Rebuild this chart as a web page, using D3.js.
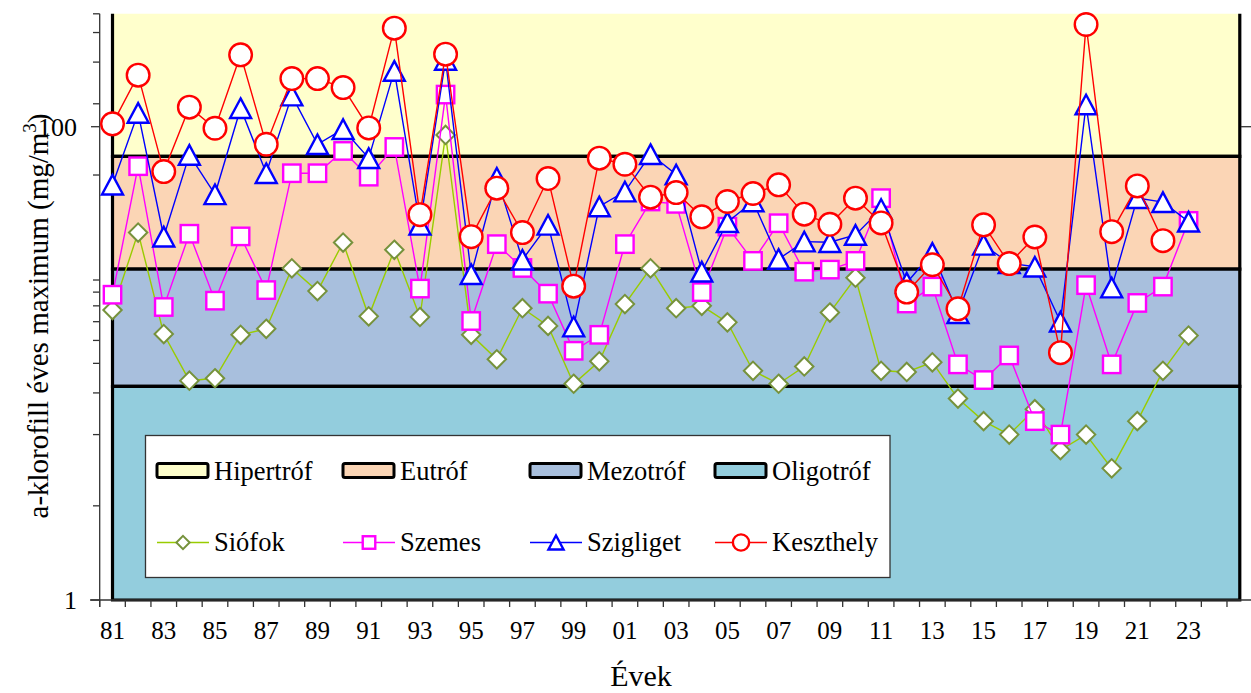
<!DOCTYPE html>
<html><head><meta charset="utf-8">
<script src="https://cdn.jsdelivr.net/npm/d3@7"></script>
<style>
body{margin:0;background:#fff}
svg{display:block}
svg text{font-family:"Liberation Serif","DejaVu Serif","Times New Roman",serif;fill:#000}
</style>
</head><body>
<svg id="c" width="1251" height="693" font-family="'Liberation Serif', 'DejaVu Serif', serif"></svg>
<script>
// ---- data ----
const categories = [1981,1982,1983,1984,1985,1986,1987,1988,1989,1990,1991,1992,1993,1994,1995,1996,1997,1998,1999,2000,2001,2002,2003,2004,2005,2006,2007,2008,2009,2010,2011,2012,2013,2014,2015,2016,2017,2018,2019,2020,2021,2022,2023,2024,2025];
const xTickLabels = ["81","83","85","87","89","91","93","95","97","99","01","03","05","07","09","11","13","15","17","19","21","23"];
const xTickYears = [1981,1983,1985,1987,1989,1991,1993,1995,1997,1999,2001,2003,2005,2007,2009,2011,2013,2015,2017,2019,2021,2023];
const yTickLabels = [1,100];
const yMinorTicks = [2.5,5,7.5,10,12.5,15,17.5,20,22.5,62.5,125,187.5,250,300];

const siofok    = [16.8,35.7,13.3,8.45,8.65,13.2,14.0,25.2,20.2,32.4,15.8,30.2,15.7,92.3,13.2,10.4,17.1,14.4,8.2,10.2,17.8,25.2,17.1,17.5,14.9,9.3,8.2,9.7,16.4,23.0,9.3,9.2,10.1,7.1,5.7,5.0,6.4,4.3,5.0,3.6,5.7,9.3,13.1];
const szemes    = [19.5,68.1,17.3,35.3,18.4,34.4,20.4,63.6,63.6,79.0,61.5,82.1,20.7,136.7,15.1,31.9,25.3,19.7,11.3,13.2,31.9,48.3,47.2,20.0,37.8,27.1,39.1,24.4,24.9,27.1,49.9,17.9,21.1,9.9,8.5,10.8,5.7,5.0,21.4,9.9,18.0,21.1,40.0];
const szigliget = [56.9,114.4,34.3,76.0,51.8,119.7,63.6,135.4,84.3,97.6,73.6,172.1,38.5,191.6,23.8,60.8,27.4,38.5,14.3,46.0,53.2,76.5,62.8,24.4,39.5,48.3,27.6,32.7,32.5,34.9,44.9,21.9,29.3,16.3,31.7,26.5,25.6,15.0,124.1,20.9,49.9,48.0,39.7];
const keszthely = [102.8,165.1,64.6,120.9,98.5,201.2,84.3,159.7,159.7,146.3,98.8,260.8,42.5,202.5,34.3,55.0,35.7,60.4,21.2,73.6,69.4,50.4,52.7,41.6,48.3,52.2,56.8,42.7,38.7,49.9,39.2,20.0,26.1,17.0,38.5,26.4,34.2,11.1,270.3,36.0,56.2,33.0,null];

const bandNames  = ["Hipertróf","Eutróf","Mezotróf","Oligotróf"];
const bandLow    = [75,25,8,1];
const bandHigh   = [400,75,25,8];
const bandColors = ["#FFFFCC","#FBD5B5","#A8BFDD","#93CDDD"];

const seriesNames = ["Siófok","Szemes","Szigliget","Keszthely"];
const seriesData  = [siofok,szemes,szigliget,keszthely];

// ---- styles ----
const series = [
  {line:"#99CC00", stroke:"#76923C", shape:"diamond"},
  {line:"#FF00FF", stroke:"#FF00FF", shape:"square"},
  {line:"#0000FF", stroke:"#0000FF", shape:"triangle"},
  {line:"#FF0000", stroke:"#FF0000", shape:"circle"}
];
const FONT = "'Liberation Serif', 'DejaVu Serif', serif";

const svg = d3.select("#c");
const x = d3.scaleBand().domain(categories).range([99.7, 1252.6]).padding(0);
const bw = x.bandwidth();
const cx = d => x(d) + bw/2;
const y = d3.scaleLog().domain([1,300]).range([600,13.8]);

// clip for bands
svg.append("clipPath").attr("id","pc").append("rect")
  .attr("x",0).attr("y",y(300)).attr("width",1251).attr("height",603-y(300));

const bandG = svg.append("g").attr("clip-path","url(#pc)");
bandNames.forEach((n,i)=>{
  const area = d3.area().x(d=>cx(d)).y0(y(bandLow[i])).y1(y(bandHigh[i]));
  bandG.append("path").datum(categories).attr("d",area)
    .attr("fill",bandColors[i]).attr("stroke","#000").attr("stroke-width",3.2)
    .attr("stroke-linejoin","miter");
});

// axes
const axG = svg.append("g").attr("stroke","#333").attr("stroke-width",1.3);
axG.append("line").attr("x1",x.range()[0]).attr("x2",x.range()[0]).attr("y1",y(300)).attr("y2",607);
axG.append("line").attr("x1",90).attr("x2",1251).attr("y1",600).attr("y2",600);
axG.selectAll(".xt").data(categories).join("line")
  .attr("x1",d=>x(d)).attr("x2",d=>x(d)).attr("y1",600).attr("y2",607);
axG.selectAll(".ymin").data(yMinorTicks).join("line")
  .attr("x1",93).attr("x2",x.range()[0]).attr("y1",d=>y(d)).attr("y2",d=>y(d));
axG.selectAll(".ymaj").data(yTickLabels).join("line")
  .attr("x1",91).attr("x2",x.range()[0]).attr("y1",d=>y(d)).attr("y2",d=>y(d));
axG.append("line").attr("x1",1241).attr("x2",1251).attr("y1",y(100)).attr("y2",y(100));

svg.selectAll(".ylab").data(yTickLabels).join("text")
  .attr("font-family",FONT)
  .attr("x",77).attr("y",d=>y(d)+9).attr("text-anchor","end")
  .attr("font-size",26).text(d=>d);
svg.selectAll(".xlab").data(xTickYears).join("text")
  .attr("font-family",FONT)
  .attr("x",d=>cx(d)).attr("y",639).attr("text-anchor","middle")
  .attr("font-size",25).text((d,i)=>xTickLabels[i]);

// titles
svg.append("text").attr("font-family",FONT).attr("x",641).attr("y",686).attr("text-anchor","middle")
  .attr("font-size",30).text("Évek");
const yt = svg.append("text").attr("font-family",FONT).attr("transform","translate(48,316) rotate(-90)")
  .attr("text-anchor","middle").attr("font-size",29);
yt.append("tspan").text("a-klorofill éves maximum (mg/m");
yt.append("tspan").attr("font-size",19).attr("dy",-12).text("3");
yt.append("tspan").attr("dy",12).text(")");

// marker drawing
function marker(g, shape, px, py, st, scale){
  const k = scale||1;
  if(shape==="circle"){
    g.append("circle").attr("cx",px).attr("cy",py).attr("r",11.3*k)
      .attr("fill","#fff").attr("stroke",st).attr("stroke-width",2.4);
  } else if(shape==="square"){
    const h=8.7*k;
    g.append("rect").attr("x",px-h).attr("y",py-h).attr("width",2*h).attr("height",2*h)
      .attr("fill","#fff").attr("stroke",st).attr("stroke-width",2.4);
  } else if(shape==="triangle"){
    const w=10.5*k, h=9.8*k;
    g.append("path").attr("d",`M${px},${py-h}L${px+w},${py+h}L${px-w},${py+h}Z`)
      .attr("fill","#fff").attr("stroke",st).attr("stroke-width",2.4).attr("stroke-linejoin","miter");
  } else {
    const r=9.2*k;
    g.append("path").attr("d",`M${px},${py-r}L${px+r},${py}L${px},${py+r}L${px-r},${py}Z`)
      .attr("fill","#fff").attr("stroke",st).attr("stroke-width",2);
  }
}

// series
seriesData.forEach((vals,si)=>{
  const st = series[si];
  const g = svg.append("g");
  const pts = vals.map((v,i)=>({c:categories[i], v}));
  const line = d3.line().defined(d=>d.v!=null).x(d=>cx(d.c)).y(d=>y(d.v));
  g.append("path").datum(pts).attr("d",line).attr("fill","none")
    .attr("stroke",st.line).attr("stroke-width",1.4);
  pts.filter(d=>d.v!=null).forEach(d=>marker(g, st.shape, cx(d.c), y(d.v), st.stroke));
});

// legend
const lg = svg.append("g");
lg.append("rect").attr("x",145.5).attr("y",435.5).attr("width",744.5).attr("height",142)
  .attr("fill","#fff").attr("stroke","#333").attr("stroke-width",1.3);
const colX = [157,343,530,715];
bandNames.forEach((n,i)=>{
  lg.append("rect").attr("x",colX[i]).attr("y",463.5).attr("width",51).attr("height",14).attr("rx",2)
    .attr("fill",bandColors[i]).attr("stroke","#000").attr("stroke-width",3);
  lg.append("text").attr("font-family",FONT).attr("x",colX[i]+57).attr("y",479.5).attr("font-size",26.5).text(n);
});
seriesNames.forEach((n,i)=>{
  const st = series[i];
  lg.append("line").attr("x1",colX[i]).attr("x2",colX[i]+52).attr("y1",542.5).attr("y2",542.5)
    .attr("stroke",st.line).attr("stroke-width",1.4);
  marker(lg, st.shape, colX[i]+26, 542.5, st.stroke, 0.72);
  lg.append("text").attr("font-family",FONT).attr("x",colX[i]+57).attr("y",551).attr("font-size",26.5).text(n);
});
</script>
</body></html>
